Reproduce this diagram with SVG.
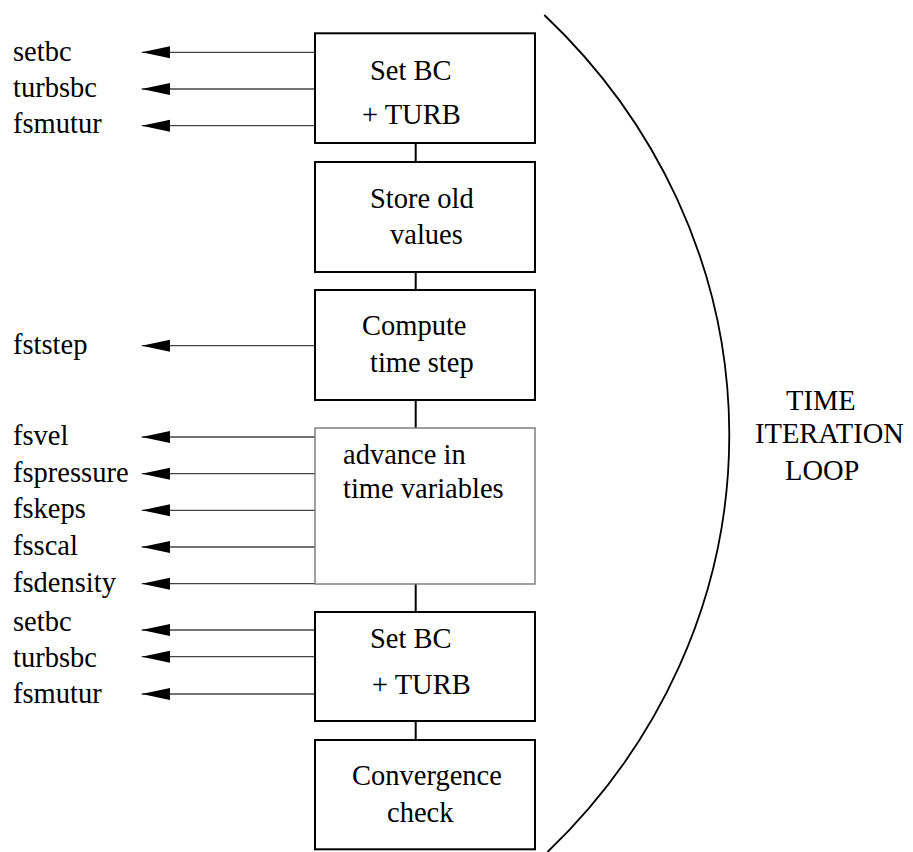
<svg xmlns="http://www.w3.org/2000/svg" width="913" height="852" viewBox="0 0 913 852">
<style>
.t{font-family:"Liberation Serif","Times New Roman",serif;font-size:28.5px;fill:#000}
.box{fill:#fff;stroke:#000;stroke-width:2}
.gbox{fill:#fff;stroke:#777;stroke-width:1.4}
.arr{stroke:#444;stroke-width:1.3;fill:none;marker-end:url(#ah)}
.vc{stroke:#000;stroke-width:2;fill:none}
</style>
<defs>
<marker id="ah" markerUnits="userSpaceOnUse" markerWidth="30" markerHeight="14" refX="28.5" refY="6" orient="auto" viewBox="0 0 30 12">
<path d="M0,0 L28.5,6 L0,12 Z" fill="#000"/>
</marker>
</defs>
<g id="connectors">
<line class="vc" x1="415.7" y1="143" x2="415.7" y2="162"/>
<line class="vc" x1="415.7" y1="272" x2="415.7" y2="290"/>
<line class="vc" x1="415.7" y1="400" x2="415.7" y2="428"/>
<line class="vc" x1="415.7" y1="584" x2="415.7" y2="612"/>
<line class="vc" x1="415.7" y1="721" x2="415.7" y2="740"/>
<line class="arr" x1="315" y1="52.3" x2="141.7" y2="52.3"/>
<line class="arr" x1="315" y1="89" x2="141.7" y2="89"/>
<line class="arr" x1="315" y1="125.7" x2="141.7" y2="125.7"/>
<line class="arr" x1="315" y1="345.7" x2="141.7" y2="345.7"/>
<line class="arr" x1="315" y1="437" x2="141.7" y2="437"/>
<line class="arr" x1="315" y1="473.7" x2="141.7" y2="473.7"/>
<line class="arr" x1="315" y1="510.3" x2="141.7" y2="510.3"/>
<line class="arr" x1="315" y1="547" x2="141.7" y2="547"/>
<line class="arr" x1="315" y1="583.7" x2="141.7" y2="583.7"/>
<line class="arr" x1="315" y1="630" x2="141.7" y2="630"/>
<line class="arr" x1="315" y1="656.7" x2="141.7" y2="656.7"/>
<line class="arr" x1="315" y1="694" x2="141.7" y2="694"/>
</g>
<g id="labels" class="t">
<text x="13" y="60.7">setbc</text>
<text x="13" y="97.3">turbsbc</text>
<text x="13" y="133.3">fsmutur</text>
<text x="13" y="354">fststep</text>
<text x="13" y="445">fsvel</text>
<text x="13" y="481.7">fspressure</text>
<text x="13" y="518.3">fskeps</text>
<text x="13" y="555">fsscal</text>
<text x="13" y="591.7">fsdensity</text>
<text x="13" y="630.7">setbc</text>
<text x="13" y="667.3">turbsbc</text>
<text x="13" y="703.3">fsmutur</text>
</g>
<g id="n1">
<rect class="box" x="315" y="33.3" width="220" height="109.7"/>
<text class="t" x="370" y="80">Set BC</text>
<text class="t" x="362" y="124">+ TURB</text>
</g>
<g id="n2">
<rect class="box" x="315" y="162" width="220" height="110"/>
<text class="t" x="370" y="207.7">Store old</text>
<text class="t" x="390" y="244.3">values</text>
</g>
<g id="n3">
<rect class="box" x="315" y="290" width="220" height="110"/>
<text class="t" x="362" y="335">Compute</text>
<text class="t" x="370" y="371.7">time step</text>
</g>
<g id="n4">
<rect class="gbox" x="315" y="428" width="220" height="156"/>
<text class="t" x="343" y="464">advance in</text>
<text class="t" x="343" y="498">time variables</text>
</g>
<g id="n5">
<rect class="box" x="315" y="612" width="220" height="109"/>
<text class="t" x="370" y="648.3">Set BC</text>
<text class="t" x="372" y="694">+ TURB</text>
</g>
<g id="n6">
<rect class="box" x="315" y="740" width="220" height="109.3"/>
<text class="t" x="352" y="785">Convergence</text>
<text class="t" x="387" y="822">check</text>
</g>
<g id="loop">
<path d="M544.3,15 A647,600 0 0 1 547.5,852" fill="none" stroke="#000" stroke-width="1.8"/>
<text class="t" x="786" y="410">TIME</text>
<text class="t" x="755" y="443">ITERATION</text>
<text class="t" x="785" y="480">LOOP</text>
</g>
</svg>
